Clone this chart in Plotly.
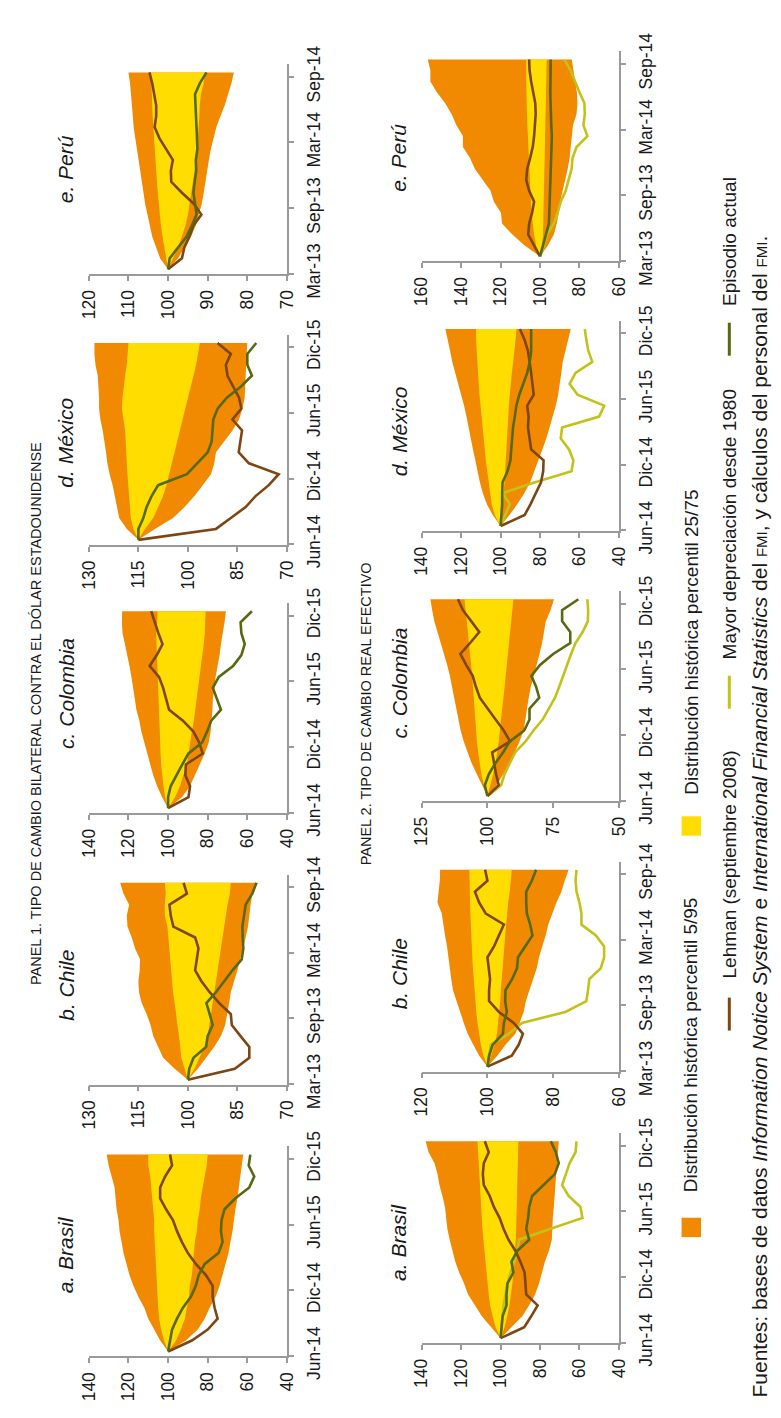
import plotly.graph_objects as go

W, H = 781, 1418


def px(x):
    return x / W


def py(y):
    return 1 - y / H


months = list(range(19))

# ---------------- Panel 1: bilateral exchange rate vs USD ----------------
bil_bra_p95 = [100, 104, 107, 110, 112, 115, 117.5, 119.5, 121, 122.5, 123.5, 124.5, 125, 126, 126.5, 127, 128.5, 130, 131]
bil_bra_p75 = [100, 102, 103.5, 104.5, 105, 105.3, 105.5, 106, 106, 106.3, 106.8, 107, 107, 107.5, 108, 108.5, 109, 110, 110]
bil_bra_p25 = [100, 96, 93.5, 91.5, 90.5, 89.5, 89, 88, 87.5, 87, 86.5, 85.5, 85, 84, 83.5, 82.5, 81.5, 80.5, 80]
bil_bra_p5 = [100, 91, 85, 81.5, 79, 76, 74, 72.5, 71, 69.5, 68.5, 67.5, 66.7, 66, 65, 64.3, 63.5, 62.8, 62]
bil_bra_lehman = [100, 88, 80, 75, 76.5, 77.5, 77.5, 81, 86, 90, 93, 95.5, 97.5, 101, 104, 104, 101.5, 98, 99]
bil_bra_actual = [100, 99, 98, 95.5, 92.5, 88.5, 86, 84.5, 81.5, 74.5, 72.5, 73.3, 73, 71.5, 66, 59, 56.5, 59.3, 58.5]

bil_chl_p95 = [100, 104, 107.5, 109, 110.5, 111.3, 112.5, 114, 114.8, 115, 114.6, 114.5, 116, 117, 118.3, 118.5, 117.8, 119.5, 120.5]
bil_chl_p75 = [100, 101, 102, 102.3, 102.7, 103, 103.5, 104, 104.5, 104.8, 105, 105.2, 105.5, 106, 106.2, 107, 107, 106.7, 107]
bil_chl_p25 = [100, 98, 96.5, 95, 94, 93.5, 93, 92.5, 92, 91.5, 91, 90.5, 90, 89.5, 89, 88.5, 88, 87.3, 87]
bil_chl_p5 = [100, 97, 94.5, 92, 90, 88.7, 88, 87.5, 87, 86, 85, 84, 83.3, 82.5, 81.8, 81.3, 81, 80.5, 79.3]
bil_chl_lehman = [100, 85.8, 81.4, 81.4, 84.1, 86.7, 87, 90.5, 93.4, 95.9, 97.8, 97.2, 96.8, 97.8, 104.4, 105.2, 105.6, 100.3, 101.3]
bil_chl_actual = [100, 99.6, 98.3, 94.5, 94, 92.5, 93.4, 94.4, 91.5, 89, 86.5, 83.7, 83.2, 83.4, 83.5, 83, 82.5, 80.5, 79.2]

bil_col_p95 = [100, 103, 105.5, 107.5, 109, 110.5, 112, 113.5, 114.5, 116, 116.8, 117.5, 118.5, 119.5, 120.5, 121.8, 123, 123.3, 123.2]
bil_col_p75 = [100, 101.5, 102.3, 103, 103.5, 103.8, 104, 104.3, 104.5, 104.7, 105, 105.2, 105.3, 105.5, 105.5, 105.7, 106, 105.5, 105.3]
bil_col_p25 = [100, 96.5, 94, 92.3, 90.5, 89.5, 88.8, 88, 87, 86.3, 85.5, 84.8, 84, 83.2, 82.7, 82, 81.5, 81.2, 81]
bil_col_p5 = [100, 93, 89, 86.5, 84, 81.5, 79.5, 78.5, 78, 77.6, 77.4, 76.5, 76, 75, 74, 73.3, 72.5, 71.5, 70.8]
bil_col_lehman = [100, 89.7, 88.9, 91.3, 91, 82.5, 84.3, 87.2, 92.5, 99.5, 101, 102.5, 104.6, 109.3, 105.7, 102.8, 104.9, 106.6, 108.5]
bil_col_actual = [100, 100, 98.7, 95.9, 92.8, 89.7, 82.8, 80.3, 78.2, 73.3, 75.4, 77.4, 74.4, 67.2, 63, 61.3, 63, 63.4, 57.7]

bil_mex_p95 = [115, 118.5, 120.8, 121.5, 122, 122.8, 123.7, 124.4, 124.8, 125.2, 125.8, 126.5, 126.9, 126.9, 127, 127.3, 128, 128.3, 128.3]
bil_mex_p75 = [115, 116.5, 117.3, 117.6, 117.9, 118.1, 118.3, 118.5, 118.6, 118.8, 119, 119.5, 120, 119.8, 119.5, 119, 118.5, 118.2, 118]
bil_mex_p25 = [115, 113, 110.5, 109, 107.5, 106.5, 105.5, 104.8, 104, 103.2, 102.4, 101.6, 100.8, 100, 99.2, 98.3, 97.5, 96.9, 96.4]
bil_mex_p5 = [115, 110, 104.5, 101, 98, 95.5, 93, 92, 91.5, 89, 86.5, 84.5, 83.5, 82.8, 82.6, 82.5, 82.4, 82.2, 82]
bil_mex_lehman = [115, 91.5, 87, 82.5, 79.5, 75.5, 72.5, 81.5, 84.6, 84.2, 83.6, 86.5, 83.8, 84.5, 86.2, 88, 88.5, 87, 91]
bil_mex_actual = [115, 115, 113.5, 112.5, 111, 109, 100.3, 97, 94, 92.8, 92.6, 92.3, 91, 88.2, 84, 80.6, 82, 82, 79.3]

bil_per_p95 = [100, 102, 103, 104, 104.6, 105.2, 105.8, 106.2, 106.6, 107, 107.4, 107.9, 108.3, 108.7, 108.9, 109.1, 109.3, 109.6, 110]
bil_per_p75 = [100, 100.5, 101, 101.4, 101.8, 102.1, 102.4, 102.6, 102.8, 103, 103.2, 103.4, 103.5, 103.7, 103.9, 104, 104.1, 104.2, 104.3]
bil_per_p25 = [100, 98.8, 97.5, 96.5, 95.6, 95, 94.5, 94.1, 93.7, 93.3, 92.9, 92.6, 92.4, 92.3, 92.1, 92, 91.7, 91, 90.7]
bil_per_p5 = [100, 97.5, 95.8, 94.2, 93, 92.2, 91.5, 91, 90.6, 90.1, 89.7, 89.2, 88.5, 87.8, 86.8, 85.7, 84.9, 84, 83.4]
bil_per_lehman = [100, 96.5, 95.9, 94.6, 93.6, 91.6, 93.5, 96.5, 99.2, 99.3, 98.8, 100.5, 102.2, 103.4, 103, 103, 103.5, 104, 104.7]
bil_per_actual = [100, 99.6, 97.5, 95.3, 94, 92.8, 93.2, 93.6, 93.3, 92.9, 93, 92.6, 92.7, 92.8, 93, 93.1, 93.2, 92, 90.3]

# ---------------- Panel 2: real effective exchange rate ----------------
ree_bra_p95 = [100, 105, 109.5, 113, 116.5, 118.5, 121, 123, 124.5, 125.8, 127, 127.6, 128.2, 129.5, 131, 132, 133.5, 136.5, 138]
ree_bra_p75 = [100, 102.5, 104, 105.3, 106, 106.6, 107.2, 107.7, 108.2, 108.7, 109.2, 109.5, 109.8, 110, 110.3, 110.6, 110.9, 111.3, 111.7]
ree_bra_p25 = [100, 98, 96.6, 95.5, 94.7, 94, 93.5, 93, 92.6, 92.3, 92.1, 91.9, 91.8, 91.7, 91.6, 91.4, 91.2, 91.1, 91]
ree_bra_p5 = [100, 94.5, 89, 85.5, 82.5, 80.5, 79, 77.5, 75.5, 74, 73.8, 73.5, 73, 72.6, 72.1, 71.8, 71.3, 70.8, 70.5]
ree_bra_lehman = [100, 88, 84.5, 81.2, 87, 87.5, 87.8, 90, 92.5, 96, 98.5, 100.5, 103.4, 105.5, 108.5, 109, 108.5, 106, 108]
ree_bra_actual = [100, 99.6, 99, 97, 97, 96.5, 93.5, 94.5, 91.5, 85.5, 87, 86, 85.5, 84, 78.5, 72.5, 70.5, 72, 74.5]
ree_bra_mayor = [100, 99.5, 99, 98.5, 97.5, 96.5, 95, 93, 91.5, 90.7, 74.6, 58.5, 59.5, 65.5, 68.8, 67, 65, 62, 61.5]

ree_chl_p95 = [100, 102.5, 104.3, 106, 107.2, 108.3, 109.5, 110.5, 111, 111.4, 111.9, 112.3, 112.9, 113.3, 113.9, 115.2, 114.8, 114.5, 114.4]
ree_chl_p75 = [100, 101.2, 102, 102.6, 103, 103.4, 103.7, 104, 104.2, 104.4, 104.6, 104.8, 105, 105.1, 105.2, 105.3, 105.4, 105.5, 105.5]
ree_chl_p25 = [100, 98.8, 97.8, 97.1, 96.7, 96.4, 96.1, 95.9, 95.7, 95.5, 95.2, 94.9, 94.6, 94.3, 94.1, 93.7, 93.2, 92.8, 92.6]
ree_chl_p5 = [100, 97, 94.5, 91.5, 90.2, 89, 88.3, 87.2, 86, 85, 84.3, 83.3, 82.3, 81.5, 80.2, 79, 77.5, 76.5, 75.3]
ree_chl_lehman = [100, 92.6, 90.5, 89.2, 92, 96.5, 99.5, 99.5, 99.2, 99.6, 100, 98, 96.6, 95, 100.5, 102.5, 103.8, 100, 100.7]
ree_chl_actual = [100, 99.5, 98.4, 95.3, 95, 94.1, 94.6, 94.5, 92.5, 91, 90.7, 88.5, 86.3, 87, 88, 88.2, 88.2, 86.5, 85.2]
ree_chl_mayor = [100, 99.5, 99, 93.5, 89.5, 76.3, 69.9, 69.4, 69, 65.5, 64.5, 64.5, 67, 71.4, 71.4, 72, 72.9, 73.2, 72.9]

ree_col_p95 = [100, 102, 104, 106, 107.5, 109, 110.2, 111, 111.8, 112.5, 113.5, 114.3, 115.3, 116.5, 117.7, 119, 120.2, 121, 121.7]
ree_col_p75 = [100, 101.3, 102.3, 103, 103.5, 104, 104.3, 104.6, 104.8, 105, 105.4, 105.8, 106.2, 106.6, 107, 107.4, 107.8, 108.2, 108.7]
ree_col_p25 = [100, 99, 97.8, 96.9, 96.3, 95.7, 95.2, 94.8, 94.4, 93.9, 93.5, 93, 92.6, 92.2, 91.8, 91.4, 91, 90.5, 90.1]
ree_col_p5 = [100, 96.5, 94, 91.5, 89.5, 87.8, 86.2, 85.5, 84.9, 84.3, 83.5, 82.5, 81.3, 80.2, 79.2, 78.5, 77.8, 76, 74.7]
ree_col_lehman = [100, 95.7, 96.7, 97.4, 98.2, 91.4, 93.8, 96.9, 100, 102.9, 104.4, 105.6, 108.1, 110.3, 106.6, 103.1, 106.2, 109.3, 111.2]
ree_col_actual = [100, 101, 99.5, 97, 94, 91.5, 86, 84, 84, 80.3, 81.5, 83.3, 80, 75, 68.5, 68.5, 71.6, 71.6, 65.4]
ree_col_mayor = [100, 94.8, 93.5, 91.5, 89.5, 85.5, 82.5, 79, 76.5, 74.3, 72.7, 71.3, 69.8, 68.2, 66.5, 63.8, 61.8, 61.7, 62]

ree_mex_p95 = [100, 104, 107, 109, 110.5, 111.8, 112.8, 114, 115, 116, 117.3, 118.5, 120, 121.5, 123, 124.5, 125.6, 126.8, 128]
ree_mex_p75 = [100, 103, 104.5, 105.3, 106, 106.8, 107.5, 108, 108.6, 109.2, 109.7, 110.2, 110.7, 111.1, 111.5, 111.9, 112.2, 112.4, 112.5]
ree_mex_p25 = [100, 99.5, 99, 98.5, 98, 97.6, 97.2, 96.9, 96.6, 96.4, 96.1, 95.8, 95.4, 94.9, 94.3, 93.6, 92.9, 92.4, 91.9]
ree_mex_p5 = [100, 95.5, 91.5, 88, 85, 83, 80.8, 78.8, 76.8, 75, 73.5, 72, 70.8, 70, 69.2, 68.5, 67.2, 65.8, 64.4]
ree_mex_lehman = [100, 87.8, 84.8, 82, 79.5, 78.4, 78.2, 84.5, 85.3, 86.1, 85.8, 86.5, 83.2, 83.7, 84.5, 85.3, 86.1, 87.8, 90.2]
ree_mex_actual = [100, 99.6, 99.2, 99.2, 99, 96.5, 95, 94.6, 94.3, 93.7, 92.8, 92, 90.5, 88.5, 86.5, 85.2, 84.5, 84.5, 84.5]
ree_mex_mayor = [100, 97.5, 95.3, 99, 82.5, 64, 63.1, 65.3, 69.5, 68.8, 50, 47.5, 61, 65, 62, 53.5, 55.5, 56.5, 57.3]

ree_per_p95 = [100, 107.8, 114, 119.3, 119.8, 123.4, 125.1, 129.2, 133, 135.5, 139.1, 139.1, 142.4, 144.8, 148.1, 152.3, 155.6, 155.6, 156.9]
ree_per_p75 = [100, 102, 103, 103.8, 104.3, 104.6, 104.9, 105.2, 105.5, 105.8, 106, 106.2, 106.4, 106.6, 106.8, 107, 107, 107, 107]
ree_per_p25 = [100, 99, 98.5, 98.2, 98, 97.9, 97.8, 97.7, 97.6, 97.5, 97.4, 97.3, 97.2, 97.1, 97, 96.9, 96.8, 96.7, 96.6]
ree_per_p5 = [100, 96, 93, 91.5, 90.5, 89.8, 88.5, 87.2, 86, 85, 84.2, 83.8, 83.3, 81.5, 81, 81.3, 82, 83, 83.9]
ree_per_lehman = [100, 102.8, 106, 105.5, 104, 103, 105.5, 107, 106.5, 105, 103.7, 103, 102.6, 102.2, 102.4, 103.5, 104.5, 105.3, 105.5]
ree_per_actual = [100, 98.5, 97, 95.5, 95.3, 95.1, 94.9, 94.7, 94.5, 94.1, 93.9, 94, 94.3, 94.5, 94.7, 94.8, 94.7, 94.7, 94.6]
ree_per_mayor = [100, 98, 96.5, 93, 91, 89.5, 87, 85.5, 84, 83.5, 81.5, 76, 78, 77.3, 77.5, 80, 82.2, 84.5, 87.7]

# ---------------- labels ----------------
labels_jun14 = ["Jun-14", "Dic-14", "Jun-15", "Dic-15"]
labels_mar13 = ["Mar-13", "Sep-13", "Mar-14", "Sep-14"]
ticks_140_40 = [140, 120, 100, 80, 60, 40]
ticks_130_70 = [130, 115, 100, 85, 70]
ticks_120_70 = [120, 110, 100, 90, 80, 70]
ticks_120_60 = [120, 100, 80, 60]
ticks_125_50 = [125, 100, 75, 50]
ticks_160_60 = [160, 140, 120, 100, 80, 60]

ORANGE = "#F18A00"
YELLOW = "#FFDD00"
BROWN = "#7E4612"
GREEN = "#576912"
LIME = "#C3C21B"
AXIS = "#9a9a9a"
TXT = "#1a1a1a"
FONT = "Liberation Sans, Arial, sans-serif"

fig = go.Figure()
annotations = []
shapes = []

charts = [
    ("a. Brasil", 49, 1267, 72.7, 276, 1372, ticks_140_40, labels_jun14,
     bil_bra_p95, bil_bra_p75, bil_bra_p25, bil_bra_p5, bil_bra_lehman, bil_bra_actual, None),
    ("b. Chile", 49, 989, 72.7, 276, 1091.7, ticks_130_70, labels_mar13,
     bil_chl_p95, bil_chl_p75, bil_chl_p25, bil_chl_p5, bil_chl_lehman, bil_chl_actual, None),
    ("c. Colombia", 49, 688, 72.7, 276, 811.7, ticks_140_40, labels_jun14,
     bil_col_p95, bil_col_p75, bil_col_p25, bil_col_p5, bil_col_lehman, bil_col_actual, None),
    ("d. México", 49, 430, 72.7, 276, 535, ticks_130_70, labels_jun14,
     bil_mex_p95, bil_mex_p75, bil_mex_p25, bil_mex_p5, bil_mex_lehman, bil_mex_actual, None),
    ("e. Perú", 49, 148, 72.7, 276, 256, ticks_120_70, labels_mar13,
     bil_per_p95, bil_per_p75, bil_per_p25, bil_per_p5, bil_per_lehman, bil_per_actual, None),
    ("a. Brasil", 391, 1254, 414.3, 616.7, 1358.3, ticks_140_40, labels_jun14,
     ree_bra_p95, ree_bra_p75, ree_bra_p25, ree_bra_p5, ree_bra_lehman, ree_bra_actual, ree_bra_mayor),
    ("b. Chile", 391, 977, 414.3, 616.7, 1078.3, ticks_120_60, labels_mar13,
     ree_chl_p95, ree_chl_p75, ree_chl_p25, ree_chl_p5, ree_chl_lehman, ree_chl_actual, ree_chl_mayor),
    ("c. Colombia", 391, 677, 414.3, 616.7, 799.3, ticks_125_50, labels_jun14,
     ree_col_p95, ree_col_p75, ree_col_p25, ree_col_p5, ree_col_lehman, ree_col_actual, ree_col_mayor),
    ("d. México", 391, 418, 414.3, 616.7, 520.7, ticks_140_40, labels_jun14,
     ree_mex_p95, ree_mex_p75, ree_mex_p25, ree_mex_p5, ree_mex_lehman, ree_mex_actual, ree_mex_mayor),
    ("e. Perú", 391, 136, 414.3, 616.7, 242.7, ticks_160_60, labels_mar13,
     ree_per_p95, ree_per_p75, ree_per_p25, ree_per_p5, ree_per_lehman, ree_per_actual, ree_per_mayor),
]

T_LO, T_HI = -0.45, 18.75
PX_PER_MONTH = 11.28
TICK_POS = [-0.4, 5.6, 11.6, 17.6]
layout_axes = {}

for i, (title, tx, ty, x0, x1, yb, vticks, tlabels,
        p95, p75, p25, p5, lehman, actual, mayor) in enumerate(charts, start=1):
    xa = "x" if i == 1 else f"x{i}"
    ya = "y" if i == 1 else f"y{i}"
    yt = yb - (T_HI - T_LO) * PX_PER_MONTH
    rev = months[::-1]
    fig.add_trace(go.Scatter(x=p95 + p5[::-1], y=months + rev, fill="toself",
                             fillcolor=ORANGE, line=dict(width=0), mode="lines",
                             xaxis=xa, yaxis=ya, hoverinfo="skip"))
    fig.add_trace(go.Scatter(x=p75 + p25[::-1], y=months + rev, fill="toself",
                             fillcolor=YELLOW, line=dict(width=0), mode="lines",
                             xaxis=xa, yaxis=ya, hoverinfo="skip"))
    if mayor is not None:
        fig.add_trace(go.Scatter(x=mayor, y=months, mode="lines",
                                 line=dict(color=LIME, width=2.6), xaxis=xa, yaxis=ya))
    fig.add_trace(go.Scatter(x=lehman, y=months, mode="lines",
                             line=dict(color=BROWN, width=2.6), xaxis=xa, yaxis=ya))
    fig.add_trace(go.Scatter(x=actual, y=months, mode="lines",
                             line=dict(color=GREEN, width=2.6), xaxis=xa, yaxis=ya))

    key_x = "xaxis" if i == 1 else f"xaxis{i}"
    key_y = "yaxis" if i == 1 else f"yaxis{i}"
    layout_axes[key_x] = dict(
        domain=[px(x0), px(x1)], range=[vticks[0], vticks[-1]], anchor=ya,
        tickvals=vticks, ticktext=[str(v) for v in vticks], tickangle=-90,
        showline=True, linecolor=AXIS, linewidth=1.5, ticks="outside",
        tickcolor=AXIS, ticklen=5, tickwidth=1.5, showgrid=False, zeroline=False,
        ticklabelstandoff=2,
        tickfont=dict(family=FONT, size=17.5, color=TXT), fixedrange=True)
    layout_axes[key_y] = dict(
        domain=[py(yb), py(yt)], range=[T_LO, T_HI], anchor=xa, side="right",
        tickvals=TICK_POS, ticktext=tlabels, tickangle=-90,
        showline=True, linecolor=AXIS, linewidth=1.5, ticks="outside",
        tickcolor=AXIS, ticklen=5, tickwidth=1.5, showgrid=False, zeroline=False,
        ticklabelstandoff=5,
        tickfont=dict(family=FONT, size=17.5, color=TXT), fixedrange=True)

    annotations.append(dict(
        text=title, x=px(tx), y=py(ty), xref="paper", yref="paper",
        textangle=-90, showarrow=False, xanchor="center", yanchor="middle",
        font=dict(family=FONT, size=21, color=TXT, style="italic")))

annotations.append(dict(
    text="PANEL 1. TIPO DE CAMBIO BILATERAL CONTRA EL DÓLAR ESTADOUNIDENSE",
    x=px(18), y=py(709), xref="paper", yref="paper", textangle=-90,
    showarrow=False, xanchor="center", yanchor="middle",
    font=dict(family=FONT, size=14.5, color=TXT)))
annotations.append(dict(
    text="PANEL 2. TIPO DE CAMBIO REAL EFECTIVO",
    x=px(357), y=py(709), xref="paper", yref="paper", textangle=-90,
    showarrow=False, xanchor="center", yanchor="middle",
    font=dict(family=FONT, size=14.5, color=TXT)))

# legend (manual, rotated like the rest of the figure)
leg_font = dict(family=FONT, size=19, color=TXT)
shapes.append(dict(type="rect", xref="paper", yref="paper",
                   x0=px(681), x1=px(701), y0=py(1249), y1=py(1229),
                   fillcolor=ORANGE, line=dict(width=0)))
annotations.append(dict(text="Distribución histórica percentil 5/95", x=px(691), y=py(1205),
                        xref="paper", yref="paper", textangle=-90, showarrow=False,
                        xanchor="center", yanchor="bottom", font=leg_font))
shapes.append(dict(type="rect", xref="paper", yref="paper",
                   x0=px(681), x1=px(701), y0=py(835), y1=py(815),
                   fillcolor=YELLOW, line=dict(width=0)))
annotations.append(dict(text="Distribución histórica percentil 25/75", x=px(691), y=py(795),
                        xref="paper", yref="paper", textangle=-90, showarrow=False,
                        xanchor="center", yanchor="bottom", font=leg_font))
for (lx, l0, l1, col, txt, t0) in [
    (730, 1036, 1002, BROWN, "Lehman (septiembre 2008)", 984),
    (730, 704, 670, LIME, "Mayor depreciación desde 1980", 655),
    (730, 340, 306, GREEN, "Episodio actual", 291),
]:
    shapes.append(dict(type="line", xref="paper", yref="paper",
                       x0=px(lx), x1=px(lx), y0=py(l0), y1=py(l1),
                       line=dict(color=col, width=3)))
    annotations.append(dict(text=txt, x=px(lx), y=py(t0), xref="paper", yref="paper",
                            textangle=-90, showarrow=False, xanchor="center",
                            yanchor="bottom", font=leg_font))

annotations.append(dict(
    text=("Fuentes: bases de datos <i>Information Notice System</i> e "
          "<i>International Financial Statistics</i> del <span style='font-size:15px'>FMI</span>, "
          "y cálculos del personal del <span style='font-size:15px'>FMI</span>."),
    x=px(761), y=py(1417), xref="paper", yref="paper", textangle=-90,
    showarrow=False, xanchor="center", yanchor="bottom",
    font=dict(family=FONT, size=21, color=TXT)))

fig.update_layout(
    width=W, height=H, margin=dict(l=0, r=0, t=0, b=0),
    paper_bgcolor="white", plot_bgcolor="white", showlegend=False,
    annotations=annotations, shapes=shapes, **layout_axes)

fig.write_html("out.html")
